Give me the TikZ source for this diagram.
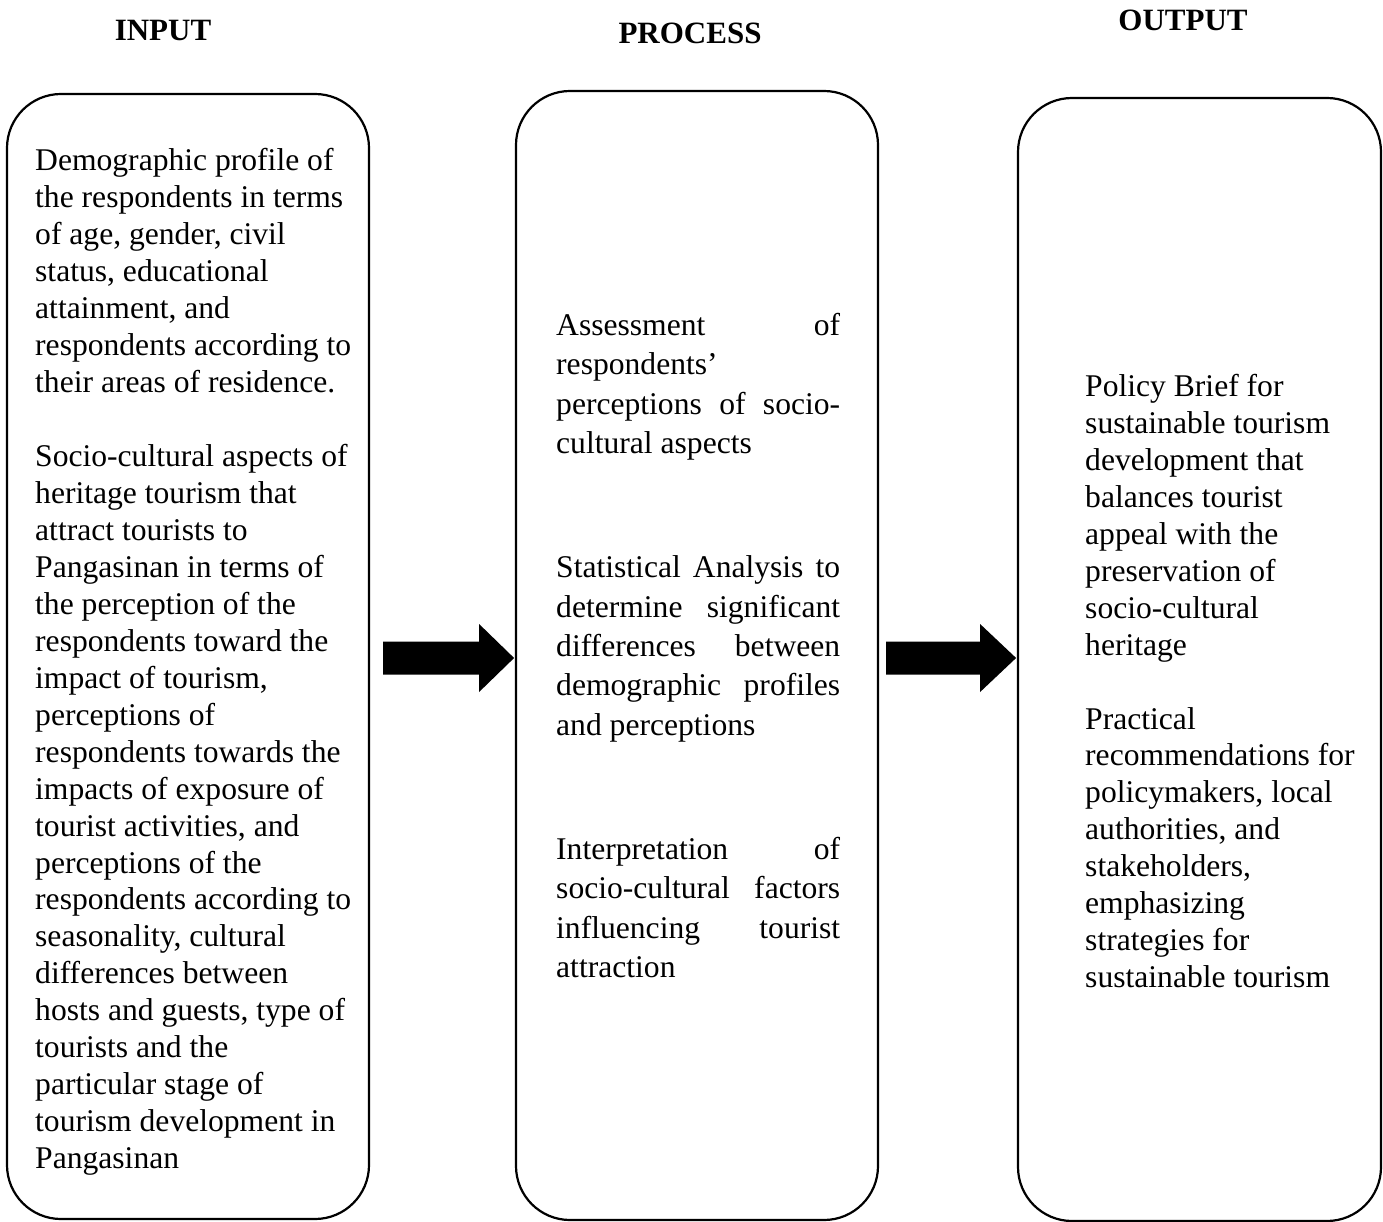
\documentclass[tikz,border=0pt]{standalone}
\usepackage{fontspec}
\setmainfont{Liberation Serif}
\usetikzlibrary{calc}
\newcommand\jl[1]{\makebox[284pt][s]{#1}}
\begin{document}
\begin{tikzpicture}[x=1pt,y=-1pt,
  box/.style={draw, line width=2.2pt, rounded corners=54pt, inner sep=0pt},
  title/.style={font=\fontsize{31}{36}\selectfont\bfseries, inner sep=0pt, anchor=base},
  body/.style={align=left, inner sep=0pt, anchor=north west},
  blockarrow/.style={fill=black}]
\useasboundingbox (0,0) rectangle (1383,1222);
% boxes
\node[box, minimum width=362pt, minimum height=1125pt] (inbox) at (188,656.5) {};
\node[box, minimum width=362pt, minimum height=1129pt] (procbox) at (697,655.5) {};
\node[box, minimum width=363pt, minimum height=1123pt] (outbox) at (1199.5,659.5) {};
% titles
\node[title] (tin) at (163,41) {INPUT};
\node[title] (tproc) at (690,44) {PROCESS};
\node[title] (tout) at (1183,31) {OUTPUT};
% texts
\node[body, font=\fontsize{31.6}{36.95}\selectfont] (intext) at (35,148.5) {%
Demographic profile of\\
the respondents in terms\\
of age, gender, civil\\
status, educational\\
attainment, and\\
respondents according to\\
their areas of residence.\\[36.95pt]
Socio-cultural aspects of\\
heritage tourism that\\
attract tourists to\\
Pangasinan in terms of\\
the perception of the\\
respondents toward the\\
impact of tourism,\\
perceptions of\\
respondents towards the\\
impacts of exposure of\\
tourist activities, and\\
perceptions of the\\
respondents according to\\
seasonality, cultural\\
differences between\\
hosts and guests, type of\\
tourists and the\\
particular stage of\\
tourism development in\\
Pangasinan};
\node[body, font=\fontsize{31.6}{39.4}\selectfont] (proctext) at (556,313) {%
\jl{Assessment of}\\
respondents’\\
\jl{perceptions of socio-}\\
cultural aspects\\[84.7pt]
\jl{Statistical Analysis to}\\
\jl{determine significant}\\
\jl{differences between}\\
\jl{demographic profiles}\\
and perceptions\\[84.7pt]
\jl{Interpretation of}\\
\jl{socio-cultural factors}\\
\jl{influencing tourist}\\
attraction};
\node[body, font=\fontsize{31.6}{36.95}\selectfont] (outtext) at (1085,374) {%
Policy Brief for\\
sustainable tourism\\
development that\\
balances tourist\\
appeal with the\\
preservation of\\
socio-cultural\\
heritage\\[36.95pt]
Practical\\
recommendations for\\
policymakers, local\\
authorities, and\\
stakeholders,\\
emphasizing\\
strategies for\\
sustainable tourism};
% block arrows
\coordinate (a1s) at ($(inbox.east |- 0,658)+(13,0)$);
\coordinate (a2s) at ($(procbox.east |- 0,658)+(7,0)$);
\fill[blockarrow] (a1s) ++(0,-16.5) -- ++(96,0) -- ++(0,-17.5) -- ++(35,34) -- ++(-35,34) -- ++(0,-17.5) -- ++(-96,0) -- cycle;
\fill[blockarrow] (a2s) ++(0,-16.5) -- ++(94,0) -- ++(0,-17.5) -- ++(36,34) -- ++(-36,34) -- ++(0,-17.5) -- ++(-94,0) -- cycle;
\end{tikzpicture}
\end{document}
